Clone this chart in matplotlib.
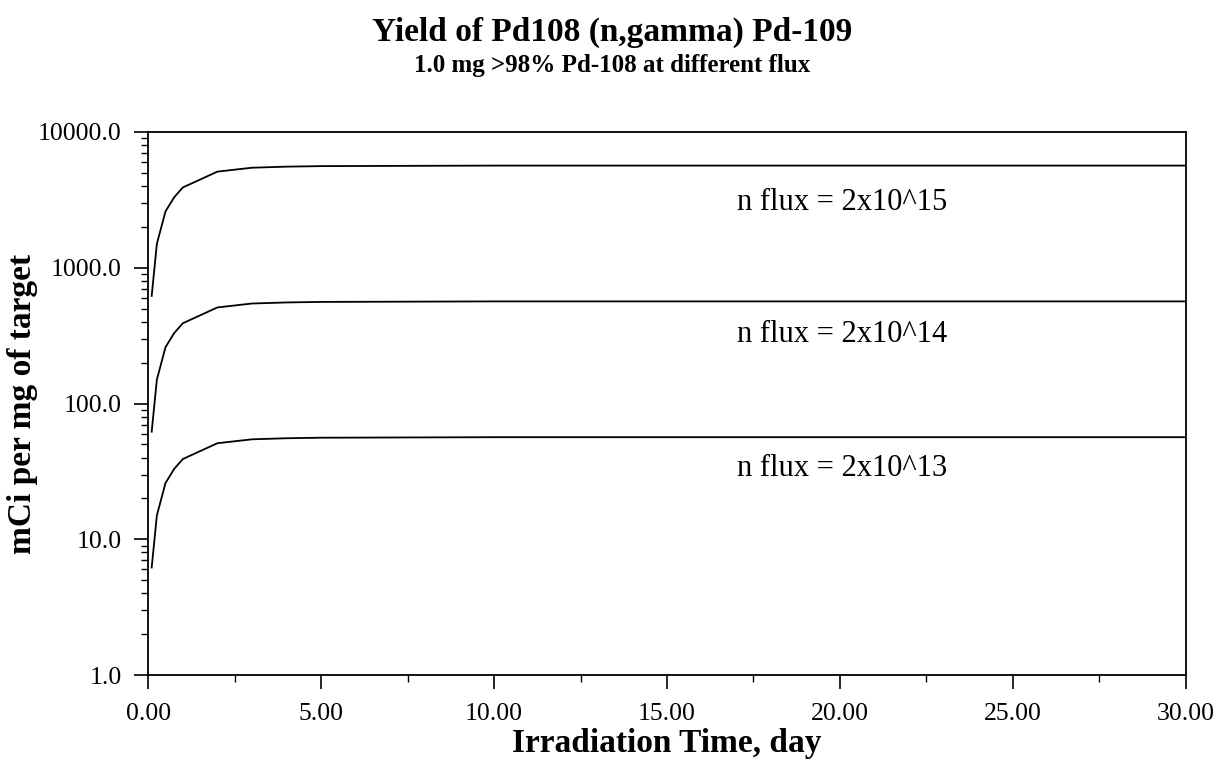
import numpy as np
import matplotlib.pyplot as plt
from matplotlib.ticker import FixedLocator, LogLocator, NullFormatter

plt.rcParams['font.family'] = ['Liberation Serif', 'DejaVu Serif']

# irradiation time (day) and yield (mCi per mg of target)
days = [0.1, 0.25, 0.5, 0.75, 1.0, 2.0, 3.0, 4.0, 5.0, 10.0, 15.0, 20.0, 25.0, 30.0]
flux_2e15 = [620, 1500, 2600, 3300, 3900, 5100, 5450, 5550, 5600, 5650, 5650, 5650, 5650, 5650]
flux_2e14 = [62, 150, 260, 330, 390, 510, 545, 555, 560, 565, 565, 565, 565, 565]
flux_2e13 = [6.2, 15, 26, 33, 39, 51, 54.5, 55.5, 56, 56.5, 56.5, 56.5, 56.5, 56.5]

series = [
    (flux_2e15, "n flux = 2x10^15", 3000),
    (flux_2e14, "n flux = 2x10^14", 320),
    (flux_2e13, "n flux = 2x10^13", 33),
]

x_ticks = [0, 5, 10, 15, 20, 25, 30]
y_ticks = [1, 10, 100, 1000, 10000]

fig = plt.figure(figsize=(12.25, 7.76), dpi=100)
ax = fig.add_axes([0.121, 0.13, 0.847, 0.70])

for vals, label, ypos in series:
    ax.plot(days, vals, color="black", lw=1.3)
    ax.text(20.05, ypos, label, fontsize=22, ha="center", va="center")

ax.set_yscale("log")
ax.set_xlim(0, 30)
ax.set_ylim(1, 10000)

ax.set_xticks(x_ticks)
ax.set_xticklabels([f"{v:.2f}" for v in x_ticks], fontsize=18.5)
ax.xaxis.set_minor_locator(FixedLocator(np.arange(2.5, 30, 5)))
ax.set_yticks(y_ticks)
ax.set_yticklabels([f"{v:.1f}" for v in y_ticks], fontsize=18.5)
ax.yaxis.set_minor_locator(LogLocator(base=10, subs=np.arange(2, 10)))
ax.yaxis.set_minor_formatter(NullFormatter())

ax.tick_params(axis="both", which="major", direction="out", length=10, width=1.2)
ax.tick_params(axis="both", which="minor", direction="out", length=5, width=1.0)
ax.tick_params(axis="x", pad=10)
ax.tick_params(axis="y", pad=9)
for sp in ax.spines.values():
    sp.set_linewidth(1.3)

ax.set_xlabel("Irradiation Time, day", fontsize=24, fontweight="bold", labelpad=2)
ax.set_ylabel("mCi per mg of target", fontsize=24, fontweight="bold", labelpad=0)

fig.text(0.5, 0.958, "Yield of Pd108 (n,gamma) Pd-109", fontsize=24,
         fontweight="bold", ha="center", va="center")
fig.text(0.5, 0.915, "1.0 mg >98% Pd-108 at different flux", fontsize=18,
         fontweight="bold", ha="center", va="center")

fig.savefig("out.png", dpi=100)
